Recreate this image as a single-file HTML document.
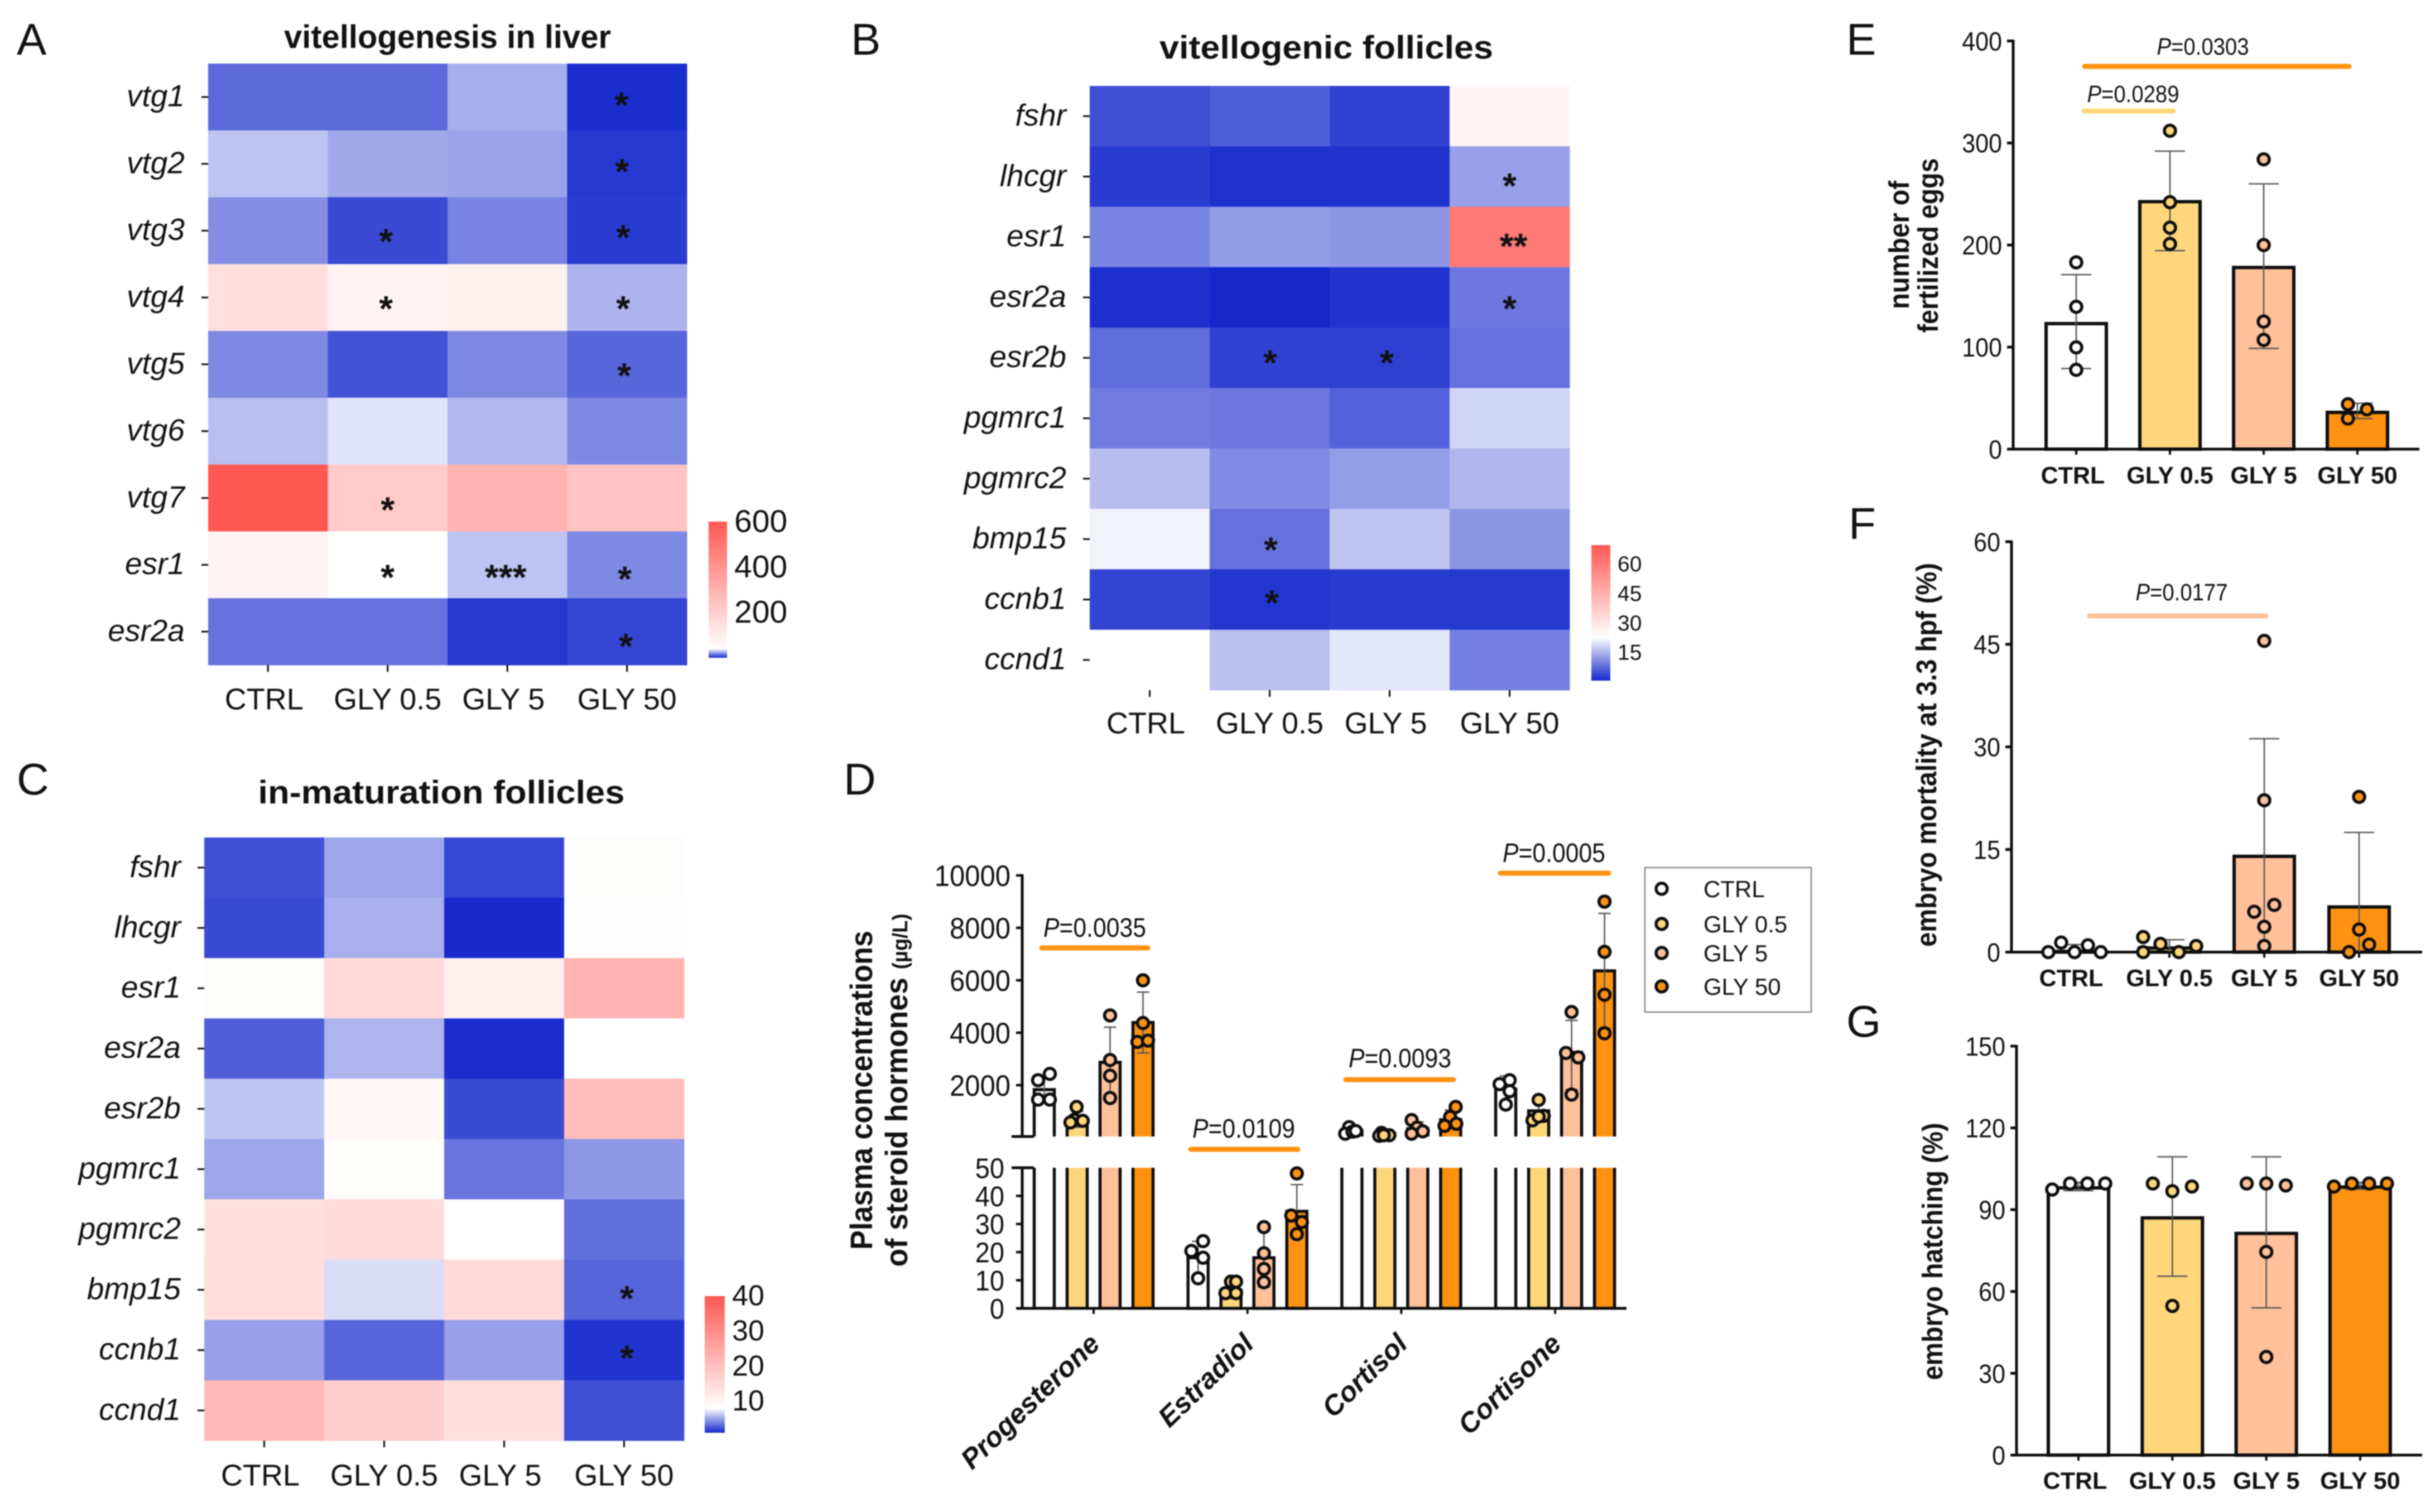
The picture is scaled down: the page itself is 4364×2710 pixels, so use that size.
<!DOCTYPE html>
<html lang="en">
<head>
<meta charset="utf-8">
<title>Glyphosate effects on zebrafish reproduction</title>
<style>
html,body{margin:0;padding:0;background:#fff;}
svg{display:block;font-family:"Liberation Sans",sans-serif;filter:blur(1.1px);}
text{fill:#111;}
</style>
</head>
<body>
<svg id="figure" xmlns="http://www.w3.org/2000/svg" width="4364" height="2710" viewBox="0 0 4364 2710">
  <rect x="0" y="0" width="4364" height="2710" fill="#fff"/>
  <defs>
    <clipPath id="clip-upper"><rect x="1800" y="1400" width="1200" height="637"/></clipPath>
    <clipPath id="clip-lower"><rect x="1800" y="2093" width="1200" height="252"/></clipPath>
  </defs>

  <g id="panel-a">
    <text x="30" y="98" font-size="80">A</text>
    <text x="802" y="86" font-size="58" font-weight="bold" text-anchor="middle" textLength="586" lengthAdjust="spacingAndGlyphs">vitellogenesis in liver</text>
  </g>
  <g id="panel-b">
    <text x="1525" y="98" font-size="80">B</text>
    <text x="2377" y="105" font-size="58" font-weight="bold" text-anchor="middle" textLength="598" lengthAdjust="spacingAndGlyphs">vitellogenic follicles</text>
  </g>
  <g id="panel-c">
    <text x="30" y="1424" font-size="80">C</text>
    <text x="791" y="1440" font-size="58" font-weight="bold" text-anchor="middle" textLength="657" lengthAdjust="spacingAndGlyphs">in-maturation follicles</text>
  </g>

  <g id="panel-d">
    <text x="1512" y="1424" font-size="80">D</text>
    <text transform="translate(1563 1954) rotate(-90)" font-size="56" font-weight="bold" text-anchor="middle" textLength="572" lengthAdjust="spacingAndGlyphs">Plasma concentrations</text>
    <text transform="translate(1626 1954) rotate(-90)" font-size="56" font-weight="bold" text-anchor="middle" textLength="633" lengthAdjust="spacingAndGlyphs">of steroid hormones <tspan font-size="38">(µg/L)</tspan></text>
    <g>
      <line x1="1867" x2="2057" y1="1699" y2="1699" stroke="#ff9210" stroke-width="9" stroke-linecap="round"/>
      <text x="1962" y="1679" font-size="48" text-anchor="middle" textLength="184" lengthAdjust="spacingAndGlyphs"><tspan font-style="italic">P</tspan>=0.0035</text>
    </g>
    <g>
      <line x1="2134" x2="2326" y1="2060" y2="2060" stroke="#ff9210" stroke-width="9" stroke-linecap="round"/>
      <text x="2229" y="2039" font-size="48" text-anchor="middle" textLength="184" lengthAdjust="spacingAndGlyphs"><tspan font-style="italic">P</tspan>=0.0109</text>
    </g>
    <g>
      <line x1="2412" x2="2605" y1="1935" y2="1935" stroke="#ff9210" stroke-width="9" stroke-linecap="round"/>
      <text x="2509" y="1913" font-size="48" text-anchor="middle" textLength="184" lengthAdjust="spacingAndGlyphs"><tspan font-style="italic">P</tspan>=0.0093</text>
    </g>
    <g>
      <line x1="2689" x2="2883" y1="1565" y2="1565" stroke="#ff9210" stroke-width="9" stroke-linecap="round"/>
      <text x="2785" y="1545" font-size="48" text-anchor="middle" textLength="184" lengthAdjust="spacingAndGlyphs"><tspan font-style="italic">P</tspan>=0.0005</text>
    </g>
    <rect x="2948" y="1555" width="298" height="259" fill="#fff" stroke="#888" stroke-width="2.5"/>
  </g>

  <g id="panel-e">
    <text x="3309" y="98" font-size="80">E</text>
    <text transform="translate(3421 439) rotate(-90)" font-size="51" font-weight="bold" text-anchor="middle" textLength="230" lengthAdjust="spacingAndGlyphs">number of</text>
    <text transform="translate(3473 440) rotate(-90)" font-size="51" font-weight="bold" text-anchor="middle" textLength="313" lengthAdjust="spacingAndGlyphs">fertilized eggs</text>
    <g>
      <line x1="3736" x2="4210" y1="119" y2="119" stroke="#ff9210" stroke-width="9" stroke-linecap="round"/>
      <text x="3948" y="98" font-size="43" text-anchor="middle" textLength="165" lengthAdjust="spacingAndGlyphs"><tspan font-style="italic">P</tspan>=0.0303</text>
    </g>
    <g>
      <line x1="3735" x2="3895" y1="199" y2="199" stroke="#ffd67a" stroke-width="9" stroke-linecap="round"/>
      <text x="3823" y="183" font-size="43" text-anchor="middle" textLength="165" lengthAdjust="spacingAndGlyphs"><tspan font-style="italic">P</tspan>=0.0289</text>
    </g>
  </g>

  <g id="panel-f">
    <text x="3313" y="966" font-size="80">F</text>
    <text transform="translate(3470 1353) rotate(-90)" font-size="51" font-weight="bold" text-anchor="middle" textLength="688" lengthAdjust="spacingAndGlyphs">embryo mortality at 3.3 hpf (%)</text>
    <g>
      <line x1="3745" x2="4061" y1="1104" y2="1104" stroke="#ffc09a" stroke-width="9" stroke-linecap="round"/>
      <text x="3910" y="1076" font-size="43" text-anchor="middle" textLength="165" lengthAdjust="spacingAndGlyphs"><tspan font-style="italic">P</tspan>=0.0177</text>
    </g>
  </g>

  <g id="panel-g">
    <text x="3309" y="1858" font-size="80">G</text>
    <text transform="translate(3481 2243) rotate(-90)" font-size="51" font-weight="bold" text-anchor="middle" textLength="461" lengthAdjust="spacingAndGlyphs">embryo hatching (%)</text>
  </g>
</svg>

<script>
// ---------- shared categories ----------
const doses = ['CTRL', 'GLY 0.5', 'GLY 5', 'GLY 50'];
const doseFills = ['#ffffff', '#ffd67a', '#ffc09a', '#ff9210'];

// ---------- panel A data ----------
const genesA = ['vtg1', 'vtg2', 'vtg3', 'vtg4', 'vtg5', 'vtg6', 'vtg7', 'esr1', 'esr2a'];
const valuesA = [
  [12, 12, 25, 1],
  [29, 24, 23, 3],
  [19, 6.4, 17, 3.6],
  [146, 79, 90, 26],
  [18, 8, 18, 11.6],
  [28, 35, 27, 18],
  [600, 214, 292, 242],
  [79, 40, 29, 18],
  [14, 14, 3, 5.6]
];
const colorbarTicksA = [600, 400, 200];
const sigA = [[0,3,'*'],[1,3,'*'],[2,1,'*'],[2,3,'*'],[3,1,'*'],[3,3,'*'],[4,3,'*'],[6,1,'*'],[7,1,'*'],[7,2,'***'],[7,3,'*'],[8,3,'*']];

// ---------- panel B data ----------
const genesB = ['fshr', 'lhcgr', 'esr1', 'esr2a', 'esr2b', 'pgmrc1', 'pgmrc2', 'bmp15', 'ccnb1', 'ccnd1'];
const valuesB = [
  [5, 6.5, 3.7, 26],
  [3, 2, 2, 13.3],
  [10.5, 12.9, 12.3, 60.6],
  [1.8, 1, 2.2, 9.2],
  [8, 3.7, 3.4, 8.6],
  [9.5, 9.2, 6.9, 18.7],
  [16.3, 11, 13, 15.5],
  [21.7, 8.6, 17, 12.3],
  [3.9, 2.4, 3, 2.8],
  [23, 16.5, 20.4, 10]
];
const colorbarTicksB = [60, 45, 30, 15];
const sigB = [[1,3,'*'],[2,3,'**'],[3,3,'*'],[4,1,'*'],[4,2,'*'],[7,1,'*'],[8,1,'*']];

// ---------- panel C data ----------
const genesC = ['fshr', 'lhcgr', 'esr1', 'esr2a', 'esr2b', 'pgmrc1', 'pgmrc2', 'bmp15', 'ccnb1', 'ccnd1'];
const valuesC = [
  [2.3, 5.1, 2, 8.6],
  [2.1, 5.4, 1.1, 8.3],
  [8.6, 15, 10.9, 22.4],
  [2.8, 5.6, 1.2, 8],
  [6.1, 9.6, 2.1, 20.8],
  [5.1, 8.6, 3.5, 4.6],
  [14, 14.7, 8, 3.3],
  [14.4, 6.9, 15, 3],
  [4.9, 3, 4.9, 1.4],
  [21.4, 17.3, 14, 2.3]
];
const colorbarTicksC = [40, 30, 20, 10];
const sigC = [[7,3,'*'],[8,3,'*']];

// ---------- panel D data ----------
const hormones = ['Progesterone', 'Estradiol', 'Cortisol', 'Cortisone'];
const upperTicksD = [10000, 8000, 6000, 4000, 2000];
const lowerTicksD = [50, 40, 30, 20, 10, 0];
const meansD = [
  [1830, 700, 2870, 4390],
  [18, 6.5, 18, 34.5],
  [270, 150, 340, 680],
  [1850, 1020, 3250, 6360]
];
const errHighD = [
  [2300, 1000, 4210, 5550],
  [23.8, 9.5, 29, 44],
  [330, 170, 600, 1050],
  [2350, 1400, 4470, 8550]
];
const errLowD = [
  [1360, 400, 1530, 3230],
  [12, 3.5, 7.5, 25],
  [130, 80, 100, 350],
  [1350, 600, 1830, 4170]
];
const dotsD = [
  [[2430, 2190, 1450, 1450], [1170, 680, 580, 640], [4660, 2960, 2360, 1510], [6000, 4370, 3650, 3700]],
  [[23.9, 20.4, 18, 10.7], [9.5, 9.5, 5.4, 5.4], [28.9, 19.6, 14, 9.3], [48, 33, 30.7, 26.4]],
  [[400, 150, 230, 250], [180, 70, 90, 90], [670, 380, 240, 150], [1170, 790, 530, 450]],
  [[2190, 2040, 1770, 1260], [1440, 830, 660, 800], [3230, 3060, 4790, 1640], [9000, 7085, 5450, 3980]]
];

// ---------- panel E data ----------
const ticksE = [0, 100, 200, 300, 400];
const meansE = [123, 242.5, 178, 36];
const errHighE = [171, 292, 260, 45];
const errLowE = [79, 194.5, 98.7, 30];
const dotsE = [[183, 139.5, 99.7, 77.7], [312, 242, 217, 201], [284, 200, 125, 107], [44, 39, 30]];

// ---------- panel F data ----------
const ticksF = [0, 15, 30, 45, 60];
const meansF = [0.1, 0.6, 14, 6.6];
const errHighF = [1.1, 1.8, 31.2, 17.5];
const errLowF = [0, 0, 0, 0];
const dotsF = [[0, 1.4, 0, 1, 0], [2.2, 0, 1.2, 0, 0.9], [45.5, 22.2, 6.9, 5.9, 3.7, 0.9], [22.7, 3.3, 1.1, 0]];

// ---------- panel G data ----------
const ticksG = [0, 30, 60, 90, 120, 150];
const meansG = [98, 87, 81.3, 98.3];
const errHighG = [100, 109.4, 109.4, 100];
const errLowG = [97, 65.6, 54, 97.5];
const dotsG = [[97.4, 99.6, 99.6, 99.6], [99.6, 96.8, 98.5, 54.7], [99.6, 99.6, 98.9, 74.5, 36], [98.5, 99.6, 99.6, 99.6]];

// ---------- helpers (layout only) ----------
const NS = 'http://www.w3.org/2000/svg';
const INK = '#0d0d0d';
const DOT_R = 10;
const DOT_STROKE = 5.5;
const root = document.getElementById('figure');
const defs = root.querySelector('defs');

function mk(parent, tag, attrs) {
  const node = document.createElementNS(NS, tag);
  for (const k in attrs) node.setAttribute(k, attrs[k]);
  parent.appendChild(node);
  return node;
}
function write(parent, x, y, str, size, anchor, extra) {
  const node = mk(parent, 'text', Object.assign({x: x, y: y + size * 0.36, 'font-size': size, 'text-anchor': anchor}, extra || {}));
  node.textContent = str;
  return node;
}
// digits drawn taller than wide, as in the reference
function narrowDigits(str, visualSize) {
  return {textLength: str.length * 0.556 * visualSize, lengthAdjust: 'spacingAndGlyphs'};
}
function hex(c) { return '#' + c.map(n => Math.round(n).toString(16).padStart(2, '0')).join(''); }
const BLUE = [20, 40, 204], WHITE = [255, 255, 255], RED = [255, 88, 82];
function mix(a, b, t) { return a.map((n, i) => n + (b[i] - n) * t); }
function colorScale(lo, mid, hi) {
  return function (v) {
    if (v <= mid) return hex(mix(BLUE, WHITE, Math.max(0, (v - lo) / (mid - lo))));
    return hex(mix(WHITE, RED, Math.min(1, (v - mid) / (hi - mid))));
  };
}

// ---------- heatmap renderer ----------
function drawHeatmap(id, genes, values, sig, nudges, cbTicks, box, scale, bar, fonts) {
  const panel = document.getElementById(id);
  const color = colorScale(scale[0], scale[1], scale[2]);
  const cw = (box.x1 - box.x0) / doses.length;
  const rh = (box.y1 - box.y0) / genes.length;
  const xCenter = c => box.x0 + cw * (c + 0.5);
  const yCenter = r => box.y0 + rh * (r + 0.5);

  values.forEach(function (row, r) {
    row.forEach(function (v, c) {
      const cell = mk(panel, 'rect', {x: box.x0 + cw * c, y: box.y0 + rh * r, width: cw + 0.5, height: rh + 0.5, fill: color(v)});
      
      
    });
  });

  genes.forEach(function (g, r) {
    const tick = mk(panel, 'line', {x1: box.x0 - 12, x2: box.x0, y1: yCenter(r), y2: yCenter(r), stroke: INK, 'stroke-width': 3});
    
    
    const lab = write(panel, box.x0 - 42, yCenter(r) - 3, g, fonts.gene, 'end', {'font-style': 'italic'});
    
    
  });

  doses.forEach(function (d, c) {
    const tick = mk(panel, 'line', {x1: xCenter(c), x2: xCenter(c), y1: box.y1, y2: box.y1 + 12, stroke: INK, 'stroke-width': 3});
    
    
    const lab = write(panel, xCenter(c) + fonts.nudge[c], box.y1 + fonts.xGap, d, fonts.dose, 'middle');
    
    
  });

  sig.forEach(function (s, i) {
    const star = mk(panel, 'text', {x: xCenter(s[1]) + nudges[i][0], y: yCenter(s[0]) + nudges[i][1] + 29, 'font-size': 64, 'font-weight': 'bold', 'text-anchor': 'middle'});
    star.textContent = s[2];
    
    
  });

  // colour bar
  const yBar = v => bar.yTop + (scale[2] - v) * bar.k;
  const gradId = id + '-grad';
  const grad = mk(defs, 'linearGradient', {id: gradId, x1: 0, y1: 0, x2: 0, y2: 1});
  const span = scale[2] - scale[0];
  mk(grad, 'stop', {offset: '0%', 'stop-color': color(scale[2])});
  mk(grad, 'stop', {offset: ((scale[2] - scale[1]) / span * 100) + '%', 'stop-color': color(scale[1])});
  mk(grad, 'stop', {offset: '100%', 'stop-color': color(scale[0])});
  const cb = mk(panel, 'rect', {x: bar.x, y: yBar(scale[2]), width: bar.w, height: yBar(scale[0]) - yBar(scale[2]), fill: 'url(#' + gradId + ')'});
  
  
  cbTicks.forEach(function (t) {
    const lab = write(panel, bar.labelX, yBar(t) - 2, String(t), bar.font, 'start');
    
    
  });
}

drawHeatmap('panel-a', genesA, valuesA, sigA,
  [[-10,7],[-9,7],[-3,12],[-7,5],[-3,13],[-7,13],[-5,13],[0,14],[0,15],[-3,15],[-4,18],[-2,19]],
  colorbarTicksA, {x0: 373, x1: 1231, y0: 114, y1: 1192}, [0, 40, 600],
  {x: 1270, w: 33, yTop: 935, k: 0.4065, labelX: 1316, font: 57},
  {gene: 55, dose: 54, xGap: 60, nudge: [-7, 0, -7, 0]});

drawHeatmap('panel-b', genesB, valuesB, sigB,
  [[0,9.5],[7,9],[0,13],[1,1.5],[-5,1.5],[2,12],[4,-1]],
  colorbarTicksB, {x0: 1953, x1: 2813, y0: 154, y1: 1237}, [1, 23, 70],
  {x: 2852, w: 34, yTop: 977, k: 3.52, labelX: 2899, font: 39},
  {gene: 55, dose: 54, xGap: 58, nudge: [-7, 0, -7, 0]});

drawHeatmap('panel-c', genesC, valuesC, sigC,
  [[5,8],[5,7]],
  colorbarTicksC, {x0: 366, x1: 1226, y0: 1501, y1: 2582}, [1, 8, 40],
  {x: 1263, w: 36, yTop: 2323, k: 6.28, labelX: 1312, font: 52},
  {gene: 55, dose: 54, xGap: 61, nudge: [-7, 0, -7, 0]});

// ---------- bar chart renderer (E, F, G) ----------
function drawBarChart(id, ticks, means, errHigh, errLow, dots, jitter, g) {
  const panel = document.getElementById(id);
  const y = v => g.base - v * g.k;
  const x = i => g.first + g.step * i;
  const tickNudge = [-6, 0, 0, 0];

  const yAxis = mk(panel, 'line', {x1: g.axisX, x2: g.axisX, y1: y(ticks[ticks.length - 1]) - 2, y2: g.base, stroke: INK, 'stroke-width': 5});
  
  

  ticks.forEach(function (t) {
    const tk = mk(panel, 'line', {x1: g.axisX - 11, x2: g.axisX, y1: y(t), y2: y(t), stroke: INK, 'stroke-width': 5});
    
    
    const lab = write(panel, g.axisX - 20, y(t), String(t), 47, 'end', narrowDigits(String(t), 43));
    
    
  });

  means.forEach(function (m, i) {
    const bar = mk(panel, 'rect', {x: x(i) - 54, y: y(m), width: 108, height: g.base - y(m), fill: doseFills[i], stroke: INK, 'stroke-width': 6});
    
    
  });

  const xAxis = mk(panel, 'line', {x1: g.axisX - 9, x2: g.axisEnd, y1: g.base, y2: g.base, stroke: INK, 'stroke-width': 5});
  
  

  doses.forEach(function (d, i) {
    const tk = mk(panel, 'line', {x1: x(i), x2: x(i), y1: g.base, y2: g.base + 10, stroke: INK, 'stroke-width': 4});
    
    
    const lab = write(panel, x(i) + tickNudge[i], g.labelY, d, 43, 'middle', {'font-weight': 'bold'});
    
    
  });

  errHigh.forEach(function (hi, i) {
    const lo = errLow[i];
    const stem = mk(panel, 'line', {x1: x(i), x2: x(i), y1: y(hi), y2: y(lo), stroke: '#555', 'stroke-width': 2.5});
    
    
    const capTop = mk(panel, 'line', {x1: x(i) - 27, x2: x(i) + 27, y1: y(hi), y2: y(hi), stroke: '#555', 'stroke-width': 2.5});
    
    
    if (lo > 0) {
      const capLow = mk(panel, 'line', {x1: x(i) - 27, x2: x(i) + 27, y1: y(lo), y2: y(lo), stroke: '#555', 'stroke-width': 2.5});
      
      
    }
  });

  dots.forEach(function (series, i) {
    series.forEach(function (v, j) {
      const dot = mk(panel, 'circle', {cx: x(i) + jitter[i][j], cy: y(v), r: DOT_R, fill: doseFills[i], stroke: INK, 'stroke-width': DOT_STROKE});
      
      
    });
  });
}

drawBarChart('panel-e', ticksE, meansE, errHighE, errLowE, dotsE,
  [[0,0,0,0],[0,0,0,0],[0,0,0,0],[-17,17,-17]],
  {base: 805, k: 1.829, first: 3721, step: 168, axisX: 3608, axisEnd: 4336, labelY: 851});

drawBarChart('panel-f', ticksF, meansF, errHighF, errLowF, dotsF,
  [[-47,-24,0,24,47],[-47,-47,-16,17,48],[0,0,18,-18,0,0],[0,0,18,-18]],
  {base: 1706.5, k: 12.26, first: 3718, step: 170, axisX: 3605, axisEnd: 4341, labelY: 1752});

drawBarChart('panel-g', ticksG, meansG, errHighG, errLowG, dotsG,
  [[-47,-15,16,48],[-35,0,35,0],[-35,0,35,0,0],[-47,-15,16,48]],
  {base: 2608, k: 4.887, first: 3725, step: 168.3, axisX: 3614, axisEnd: 4341, labelY: 2653});

// ---------- panel D renderer (broken axis) ----------
(function () {
  const panel = document.getElementById('panel-d');
  const AX = 1832, BASE = 2345, BREAK_LOW = 2037, BREAK_HIGH = 2093;
  const yD = v => v <= 50 ? BASE - v * 5.04 : 2039 - v * 0.047;
  const xD = (g, s) => 1960 + g * 275.7 + (s - 1.5) * 59;
  const jitterD = [
    [[10,-11,-11,10],[-1,-5,-12,10],[0,0,0,0],[0,0,-10,9]],
    [[9,-12,9,0],[0,9,-10,9],[0,0,0,0],[0,-10,9,0]],
    [[-5,-12,1,7],[-6,-10,8,-2],[-11,-1,9,-11],[9,-1,10,-11]],
    [[7,-11,7,0],[0,9,-11,0],[-10,12,0,0],[0,0,0,0]]
  ];

  hormones.forEach(function (h, g) {
    meansD[g].forEach(function (m, s) {
      const x = xD(g, s) - 18;
      if (m > 50) {
        const up = mk(panel, 'rect', {x: x, y: yD(m), width: 36, height: 2100 - yD(m), fill: doseFills[s], stroke: INK, 'stroke-width': 5.5, 'clip-path': 'url(#clip-upper)'});
        
        
        const low = mk(panel, 'rect', {x: x, y: 2060, width: 36, height: BASE - 2060, fill: doseFills[s], stroke: INK, 'stroke-width': 5.5, 'clip-path': 'url(#clip-lower)'});
        
        
      } else {
        const bar = mk(panel, 'rect', {x: x, y: yD(m), width: 36, height: BASE - yD(m), fill: doseFills[s], stroke: INK, 'stroke-width': 5.5});
        
        
      }
    });
  });

  const axisUp = mk(panel, 'line', {x1: AX, x2: AX, y1: yD(10000) - 2, y2: BREAK_LOW, stroke: INK, 'stroke-width': 5});
  
  
  const axisLow = mk(panel, 'line', {x1: AX, x2: AX, y1: BREAK_HIGH, y2: BASE, stroke: INK, 'stroke-width': 5});
  
  
  const breakUp = mk(panel, 'line', {x1: 1813, x2: 1853, y1: BREAK_LOW, y2: BREAK_LOW, stroke: INK, 'stroke-width': 5});
  
  
  const breakLow = mk(panel, 'line', {x1: 1813, x2: 1853, y1: BREAK_HIGH, y2: BREAK_HIGH, stroke: INK, 'stroke-width': 5});
  
  
  const xAxis = mk(panel, 'line', {x1: 1822, x2: 2915, y1: BASE, y2: BASE, stroke: INK, 'stroke-width': 5});
  
  

  upperTicksD.forEach(function (t) {
    const tk = mk(panel, 'line', {x1: AX - 11, x2: AX, y1: yD(t), y2: yD(t), stroke: INK, 'stroke-width': 4.5});
    
    
    const lab = write(panel, 1811, yD(t), String(t), 53, 'end', narrowDigits(String(t), 49));
    
    
  });
  lowerTicksD.forEach(function (t) {
    const tk = mk(panel, 'line', {x1: AX - 11, x2: AX, y1: yD(t), y2: yD(t), stroke: INK, 'stroke-width': 4.5});
    
    
    const lab = write(panel, 1800, yD(t), String(t), 51, 'end', narrowDigits(String(t), 47));
    
    
  });

  hormones.forEach(function (h, g) {
    const cx = xD(g, 1.5);
    const tk = mk(panel, 'line', {x1: cx, x2: cx, y1: BASE, y2: BASE + 10, stroke: INK, 'stroke-width': 4});
    
    
    const lab = mk(panel, 'text', {transform: 'translate(' + (cx + 14) + ' 2412) rotate(-44)', 'font-size': 50, 'font-weight': 'bold', 'font-style': 'italic', 'text-anchor': 'end'});
    lab.textContent = h;
    
    
  });

  hormones.forEach(function (h, g) {
    errHighD[g].forEach(function (hi, s) {
      const lo = errLowD[g][s];
      const x = xD(g, s);
      const stem = mk(panel, 'line', {x1: x, x2: x, y1: yD(hi), y2: yD(lo), stroke: '#555', 'stroke-width': 2.5});
      
      
      const capHi = mk(panel, 'line', {x1: x - 11, x2: x + 11, y1: yD(hi), y2: yD(hi), stroke: '#555', 'stroke-width': 2.5});
      
      
      const capLo = mk(panel, 'line', {x1: x - 11, x2: x + 11, y1: yD(lo), y2: yD(lo), stroke: '#555', 'stroke-width': 2.5});
      
      
    });
    dotsD[g].forEach(function (series, s) {
      series.forEach(function (v, j) {
        const dot = mk(panel, 'circle', {cx: xD(g, s) + jitterD[g][s][j], cy: yD(v), r: DOT_R, fill: doseFills[s], stroke: INK, 'stroke-width': DOT_STROKE});
        
        
      });
    });
  });

  // legend
  const legendY = [1593, 1656, 1708, 1768];
  doses.forEach(function (d, i) {
    const dot = mk(panel, 'circle', {cx: 2978, cy: legendY[i], r: DOT_R, fill: doseFills[i], stroke: INK, 'stroke-width': DOT_STROKE});
    
    
    const lab = write(panel, 3053, legendY[i], d, 42, 'start');
    
    
  });
})();
</script>
</body>
</html>
